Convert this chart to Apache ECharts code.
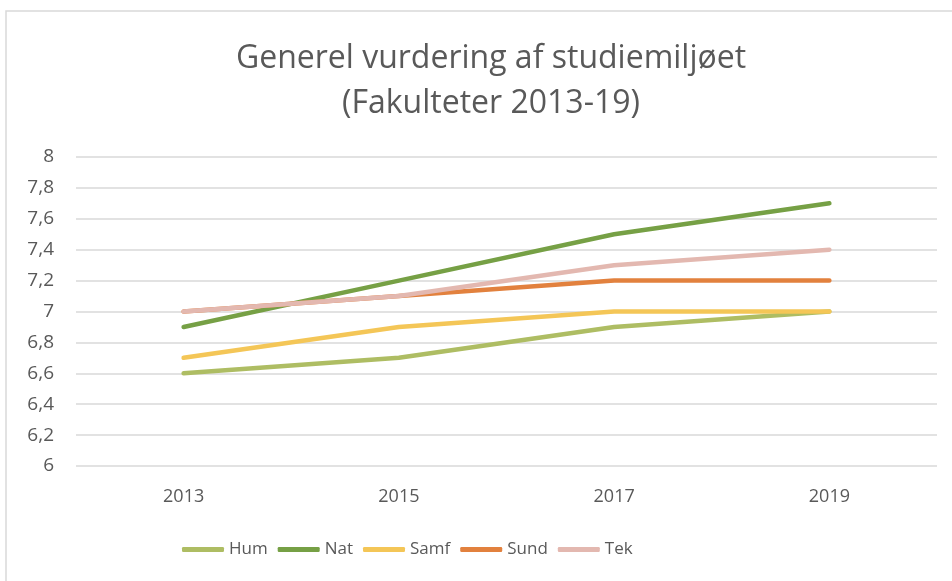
<!DOCTYPE html>
<html>
<head>
<meta charset="utf-8">
<script src="https://cdn.jsdelivr.net/npm/echarts@6/dist/echarts.min.js"></script>
<style>
  html, body { margin: 0; padding: 0; background: #fff; }
  #chart { width: 952px; height: 581px; }
</style>
</head>
<body>
<div id="chart"></div>
<script>
const years = ['2013', '2015', '2017', '2019']
const hum = [6.6, 6.7, 6.9, 7.0]
const nat = [6.9, 7.2, 7.5, 7.7]
const samf = [6.7, 6.9, 7.0, 7.0]
const sund = [7.0, 7.1, 7.2, 7.2]
const tek = [7.0, 7.1, 7.3, 7.4]

const font = '"Open Sans", sans-serif'
const textColor = '#595959'

const chart = echarts.init(document.getElementById('chart'))

const line = (name, data, color) => ({
  name,
  type: 'line',
  data,
  showSymbol: false,
  symbol: 'none',
  lineStyle: { color, width: 4.5, cap: 'round', join: 'round' },
  itemStyle: { color }
})

chart.setOption({
  backgroundColor: '#fff',
  animation: false,
  title: {
    text: 'Generel vurdering af studiemiljøet\n(Fakulteter 2013-19)',
    left: 486,
    textAlign: 'center',
    top: 31,
    textStyle: {
      fontFamily: font,
      fontSize: 32,
      fontWeight: 'normal',
      color: textColor,
      lineHeight: 45
    }
  },
  legend: {
    bottom: 18,
    left: 177,
    icon: 'roundRect',
    itemWidth: 42,
    itemHeight: 5,
    itemGap: 10,
    textStyle: { fontFamily: font, fontSize: 17, color: textColor },
    data: ['Hum', 'Nat', 'Samf', 'Sund', 'Tek']
  },
  grid: {
    left: 76,
    right: 15,
    top: 157,
    bottom: 115
  },
  xAxis: {
    type: 'category',
    data: years,
    boundaryGap: true,
    axisLine: { show: false },
    axisTick: { show: false },
    axisLabel: {
      margin: 22,
      fontFamily: font,
      fontSize: 18,
      color: textColor
    }
  },
  yAxis: {
    type: 'value',
    min: 6,
    max: 8,
    interval: 0.2,
    axisLine: { show: false },
    axisTick: { show: false },
    axisLabel: {
      margin: 22,
      fontFamily: font,
      fontSize: 19,
      color: textColor,
      formatter: v => String(Math.round(v * 10) / 10).replace('.', ',')
    },
    splitLine: { lineStyle: { color: '#d9d9d9', width: 1.5 } }
  },
  series: [
    line('Hum', hum, '#aebd63'),
    line('Nat', nat, '#76a045'),
    line('Samf', samf, '#f4c657'),
    line('Sund', sund, '#e2813e'),
    line('Tek', tek, '#e3b8b0')
  ],
  graphic: [{
    type: 'rect',
    shape: { x: 6, y: 11, width: 960, height: 600 },
    style: { fill: 'none', stroke: '#d9d9d9', lineWidth: 1.5 },
    silent: true
  }]
})
</script>
</body>
</html>
